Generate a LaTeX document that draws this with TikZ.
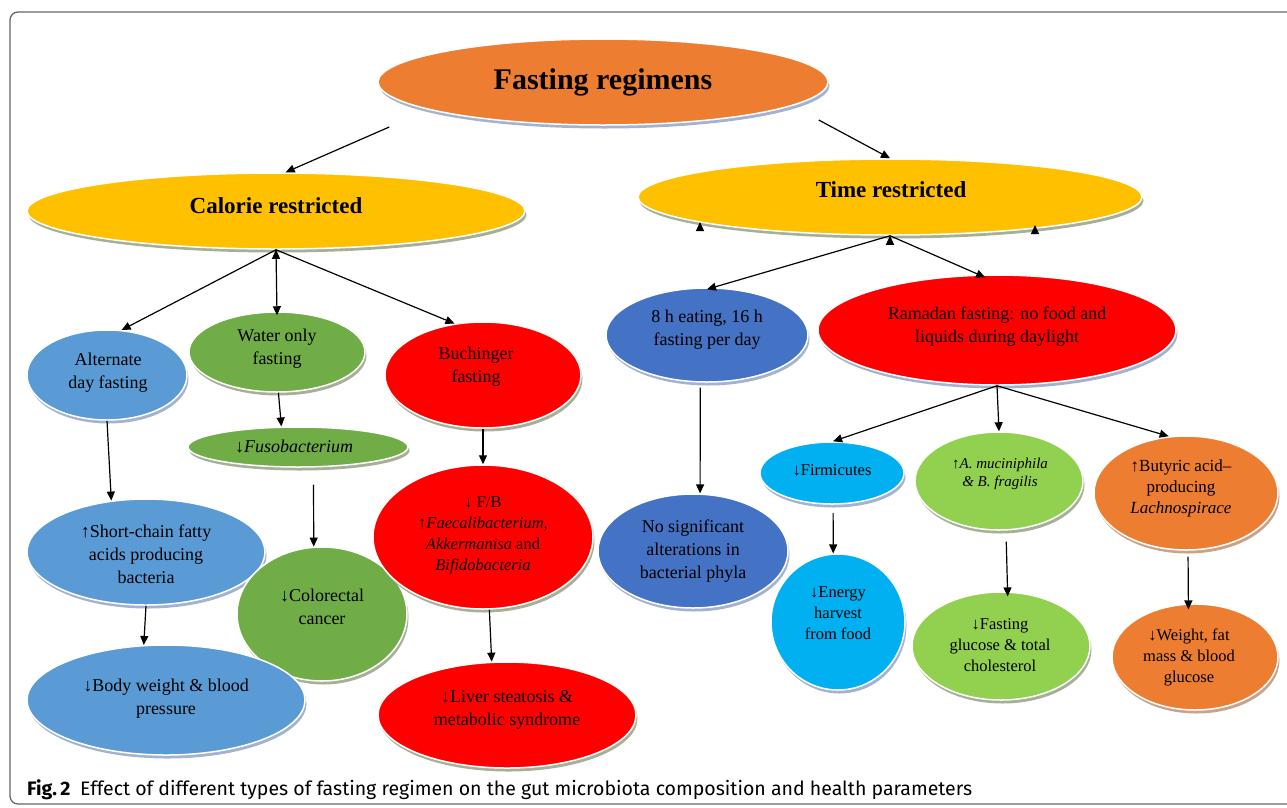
\documentclass[tikz,border=0pt]{standalone}
\usepackage{fontspec}
\setmainfont{Liberation Serif}
\newfontfamily\capfont{Fira Sans}
\usetikzlibrary{shapes.geometric,shadows,arrows.meta}
\definecolor{cOrange}{HTML}{ED7D31}
\definecolor{cYellow}{HTML}{FFC000}
\definecolor{cLBlue}{HTML}{5B9BD5}
\definecolor{cGreen}{HTML}{70AD47}
\definecolor{cRed}{HTML}{FF0000}
\definecolor{cDBlue}{HTML}{4472C4}
\definecolor{cCyan}{HTML}{00B0F0}
\definecolor{cLGreen}{HTML}{92D050}
\definecolor{shBlue}{HTML}{A3B3CF}
\definecolor{shGreen}{HTML}{A6AF98}
\definecolor{shTan}{HTML}{C9A389}
\definecolor{frameGray}{HTML}{666666}
\begin{document}
\begin{tikzpicture}[x=1pt,y=-1pt,
  bub/.style 2 args={ellipse, fill=#1, draw=white, line width=1.5pt, inner sep=0pt,
    drop shadow={shadow xshift=1.5pt, shadow yshift=-3.5pt, fill=#2, opacity=1}},
  sz/.style 2 args={minimum width=#1pt, minimum height=#2pt},
  arr/.style={-{Triangle[length=9pt,width=8pt]}, line width=1.2pt, black},
  txt/.style={align=center, inner sep=0pt, font=\fontsize{18}{23}\selectfont},
  stxt/.style={align=center, inner sep=0pt, font=\fontsize{16.5}{21}\selectfont},
  ttl/.style={align=center, inner sep=0pt, font=\bfseries\fontsize{23}{28}\selectfont},
  frm/.style={draw=frameGray, line width=1.3pt, rounded corners=8pt}
]
\useasboundingbox (0,0) rectangle (1287,807);
\draw[frm] (10,12) rectangle (1310,804);

% ellipses
\node[bub={cOrange}{shBlue}, sz={450}{86}] (fr) at (603,82) {};
\node[bub={cYellow}{shGreen}, sz={498}{76}] (cal) at (276,211) {};
\node[bub={cYellow}{shGreen}, sz={504}{76}] (tr) at (890,197) {};
\node[bub={cLBlue}{shBlue}, sz={160}{90}] (alt) at (107,375) {};
\node[bub={cGreen}{shGreen}, sz={176}{80}] (wat) at (277,352) {};
\node[bub={cRed}{shGreen}, sz={196}{106}] (buc) at (483,375) {};
\node[bub={cGreen}{shGreen}, sz={220}{40}] (fus) at (298,447) {};
\node[bub={cLBlue}{shBlue}, sz={238}{106}] (scf) at (146,552) {};
\node[bub={cGreen}{shGreen}, sz={170}{134}] (col) at (322,614) {};
\node[bub={cRed}{shGreen}, sz={220}{144}] (fb) at (483,537) {};
\node[bub={cLBlue}{shBlue}, sz={278}{110}] (bw) at (166,700) {};
\node[bub={cRed}{shGreen}, sz={258}{106}] (liv) at (507,715) {};
\node[bub={cDBlue}{shBlue}, sz={202}{94}] (eh) at (707,335) {};
\node[bub={cRed}{shBlue}, sz={358}{110}] (ram) at (997,330) {};
\node[bub={cDBlue}{shBlue}, sz={190}{114}] (ns) at (693,551) {};
\node[bub={cCyan}{shBlue}, sz={144}{62}] (fir) at (832,473) {};
\node[bub={cLGreen}{shGreen}, sz={168}{98}] (amu) at (999,481) {};
\node[bub={cOrange}{shTan}, sz={184}{114}] (but) at (1186,493) {};
\node[bub={cCyan}{shBlue}, sz={134}{136}] (en) at (838,622) {};
\node[bub={cLGreen}{shGreen}, sz={178}{108}] (fg) at (1001,646) {};
\node[bub={cOrange}{shTan}, sz={166}{106}] (wt) at (1195,657) {};

% texts
\node[align=center, inner sep=0pt, font=\bfseries\fontsize{30}{34}\selectfont] (t1) at (603,82) {Fasting regimens};
\node[ttl] (t2) at (276,206) {Calorie restricted};
\node[ttl] (t3) at (891,190) {Time restricted};
\node[txt] (t4) at (108,373) {Alternate\\day fasting};
\node[txt] (t5) at (277,349) {Water only\\fasting};
\node[txt] (t6) at (476,367) {Buchinger\\fasting};
\node[txt] (t7) at (294,447) {↓\textit{Fusobacterium}};
\node[txt] (t8) at (146,554) {↑Short-chain fatty\\acids producing\\bacteria};
\node[txt] (t9) at (322,607) {↓Colorectal\\cancer};
\node[stxt] (t10) at (483,535) {↓ F/B\\↑\textit{Faecalibacterium,}\\\textit{Akkermanisa} and\\\textit{Bifidobacteria}};
\node[txt] (t11) at (166,699) {↓Body weight \& blood\\pressure};
\node[txt] (t12) at (507,710) {↓Liver steatosis \&\\metabolic syndrome};
\node[txt] (t13) at (707,330) {8 h eating, 16 h\\fasting per day};
\node[txt] (t14) at (997,327) {Ramadan fasting: no food and\\liquids during daylight};
\node[txt] (t15) at (693,551) {No significant\\alterations in\\bacterial phyla};
\node[stxt] (t16) at (832,470) {↓Firmicutes};
\node[align=center, inner sep=0pt, font=\fontsize{15}{18}\selectfont] (t17) at (1000,474) {↑\textit{A. muciniphila}\\\textit{\& B. fragilis}};
\node[align=center, inner sep=0pt, font=\fontsize{17}{21}\selectfont] (t18) at (1181,488) {↑Butyric acid–\\producing\\\textit{Lachnospirace}};
\node[stxt] (t19) at (838,613) {↓Energy\\harvest\\from food};
\node[stxt] (t20) at (1000,645) {↓Fasting\\glucose \& total\\cholesterol};
\node[stxt] (t21) at (1189,657) {↓Weight, fat\\mass \& blood\\glucose};

% connectors
\draw[arr] ([shift={(12,45)}]fr.west) -- (cal.76);
\draw[arr] ([shift={(-10,38)}]fr.east) -- (tr.90);
\draw[arr] (cal.south) -- (alt.72);
\draw[arr] (cal.south) -- ([yshift=-4pt]wat.north);
\draw[arr] (cal.south) -- (buc.119);
\draw[arr] (tr.south) -- ([yshift=-2pt]eh.north);
\draw[arr] (tr.south) -- ([yshift=-3pt]ram.102);
\draw[arr] (alt.south) -- (scf.124);
\draw[arr] (scf.south) -- (bw.112);
\draw[arr] (wat.-88) -- (fus.129);
\draw[arr, shorten <=17pt] (fus.-53) -- (col.97);
\draw[arr] (buc.south) -- (fb.north);
\draw[arr] (fb.-85) -- (liv.106);
\draw[arr, shorten <=5pt] (eh.-98) -- (ns.83);
\draw[arr] (ram.south) -- (fir.88);
\draw[arr] (ram.south) -- (amu.north);
\draw[arr] (ram.south) -- (but.107);
\draw[arr, shorten <=8pt] (fir.-88) -- (en.94);
\draw[arr, shorten <=11pt] (amu.-82) -- ([yshift=-5pt]fg.83);
\draw[arr, shorten <=6pt] (but.-88) -- ([yshift=-6pt]wt.97);

% arrowhead stubs
\coordinate (sa) at (700,222);
\coordinate (sb) at (1035,225);
\draw[arr] ([yshift=-5pt]cal.south) -- (cal.south);
\draw[arr] ([yshift=-5pt]tr.south) -- (tr.south);
\draw[arr] ([yshift=-5pt]sa) -- (sa);
\draw[arr] ([yshift=-5pt]sb) -- (sb);

% caption
\node[anchor=west, inner sep=0pt] (cap) at (27,790) {\resizebox{945pt}{\height}{\capfont\fontsize{19.5}{22}\selectfont\textbf{Fig.\,2}\hspace{0.5em}Effect of different types of fasting regimen on the gut microbiota composition and health parameters}};
\end{tikzpicture}
\end{document}
